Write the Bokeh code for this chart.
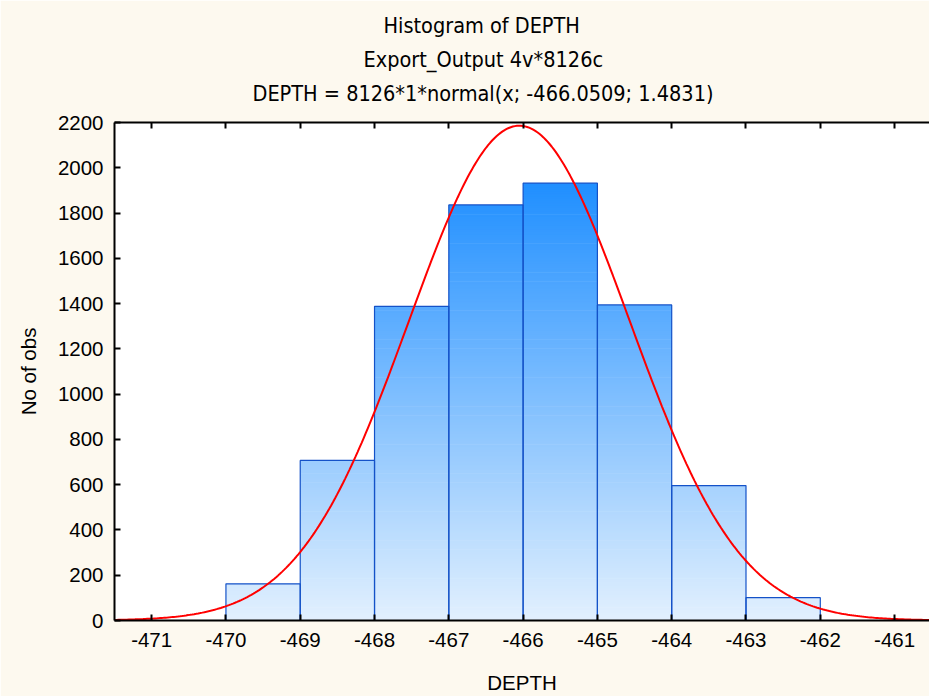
import math
from bokeh.plotting import figure
from bokeh.models import LinearAxis, Title, FixedTicker
from bokeh.embed import file_html
from bokeh.resources import INLINE

# ---- data ----
bin_left = [-470, -469, -468, -467, -466, -465, -464, -463]
bin_right = [-469, -468, -467, -466, -465, -464, -463, -462]
counts = [162, 707, 1388, 1836, 1932, 1394, 596, 101]

# fitted normal (parameters from the subtitle)
n_obs = 8126
bin_width = 1
mu = -466.0509
sigma = 1.4831

x_ticks = [-471, -470, -469, -468, -467, -466, -465, -464, -463, -462, -461]
y_ticks = [0, 200, 400, 600, 800, 1000, 1200, 1400, 1600, 1800, 2000, 2200]
x_tick_labels = ["-471", "-470", "-469", "-468", "-467", "-466", "-465", "-464", "-463", "-462", "-461"]

title_lines = ["Histogram of DEPTH", "Export_Output 4v*8126c",
               "DEPTH = 8126*1*normal(x; -466.0509; 1.4831)"]

X_MIN, X_MAX = -471.5, -460.53
Y_MIN, Y_MAX = 0, 2200

BG = "#FDF9EF"
TICK_FONT = "'Liberation Sans', Arial, sans-serif"
TITLE_FONT = "'Liberation Sans Narrow', 'DejaVu Sans Condensed', sans-serif"
FS = "20.5px"

p = figure(width=929, height=696, x_range=(X_MIN, X_MAX), y_range=(Y_MIN, Y_MAX),
           output_backend="svg", toolbar_location=None, title=None,
           min_border_left=114, min_border_right=0, min_border_bottom=76,
           min_border_top=122, x_axis_type=None, y_axis_type=None)
p.background_fill_color = "white"
p.border_fill_color = BG
p.outline_line_color = None

# ---- gradient-filled bars (stacked thin bands coloured by level) ----
c0 = (226, 240, 254)
c1 = (30, 142, 255)
top_level = 1950.0
step = 8
overlap = 3
bl, br, bb, bt, bc = [], [], [], [], []
for l, r, h in zip(bin_left, bin_right, counts):
    v = 0
    while v < h:
        t_ = min(v + step, h)
        f = min(((v + t_) / 2) / top_level, 1.0)
        col = tuple(int(round(a + (b - a) * f)) for a, b in zip(c0, c1))
        bl.append(l); br.append(r); bb.append(v); bt.append(min(t_ + overlap, h))
        bc.append("#%02x%02x%02x" % col)
        v = t_
p.quad(left=bl, right=br, bottom=bb, top=bt, fill_color=bc, line_color=None)
p.quad(left=bin_left, right=bin_right, bottom=0, top=counts, fill_color=None,
       line_color="#1452C8", line_width=1.2)

# ---- fitted normal curve ----
N = 400
xs = [X_MIN + (X_MAX - X_MIN) * i / (N - 1) for i in range(N)]
ys = [n_obs * bin_width / (sigma * math.sqrt(2 * math.pi)) * math.exp(-0.5 * ((x - mu) / sigma) ** 2) for x in xs]
p.line(xs, ys, line_color="#FF0000", line_width=2)

# ---- axes ----
def style_axis(ax):
    ax.axis_line_color = "black"
    ax.axis_line_width = 2
    ax.major_tick_in = 6
    ax.major_tick_out = 0
    ax.major_tick_line_color = "black"
    ax.major_tick_line_width = 2
    ax.minor_tick_line_color = None
    ax.major_label_text_font = TICK_FONT
    ax.major_label_text_font_size = FS
    ax.major_label_text_color = "black"
    ax.axis_label_text_font = TICK_FONT
    ax.axis_label_text_font_size = FS
    ax.axis_label_text_font_style = "normal"
    ax.axis_label_text_color = "black"

xb = LinearAxis(ticker=FixedTicker(ticks=x_ticks), axis_label="DEPTH")
style_axis(xb)
xb.major_label_overrides = {t: s for t, s in zip(x_ticks, x_tick_labels)}
xb.major_label_standoff = 12
xb.axis_label_standoff = 21
p.add_layout(xb, "below")

yl = LinearAxis(ticker=FixedTicker(ticks=y_ticks), axis_label="No of obs")
style_axis(yl)
yl.major_label_standoff = 11
yl.axis_label_standoff = 15
p.add_layout(yl, "left")

# top axis: ticks only (labels tiny and background-coloured)
xt = LinearAxis(ticker=FixedTicker(ticks=x_ticks))
style_axis(xt)
xt.major_label_text_font_size = "1px"
xt.major_label_text_color = BG
xt.major_label_standoff = 9
p.add_layout(xt, "above")

p.xgrid.visible = False
p.ygrid.ticker = FixedTicker(ticks=y_ticks)
p.ygrid.grid_line_color = "#E0E0E0"
p.ygrid.grid_line_width = 1

# ---- titles (added bottom line first: nearest to the frame) ----
# left offsets centre each line at about x=483 of the picture
title_offsets = [269, 249, 138]
for line, off in reversed(list(zip(title_lines, title_offsets))):
    t = Title(text=line, align="left", offset=off, text_font=TITLE_FONT,
              text_font_size="21.5px", text_font_style="normal",
              text_color="black", standoff=7)
    p.add_layout(t, "above")

open("out.html", "w").write(file_html(p, INLINE))
